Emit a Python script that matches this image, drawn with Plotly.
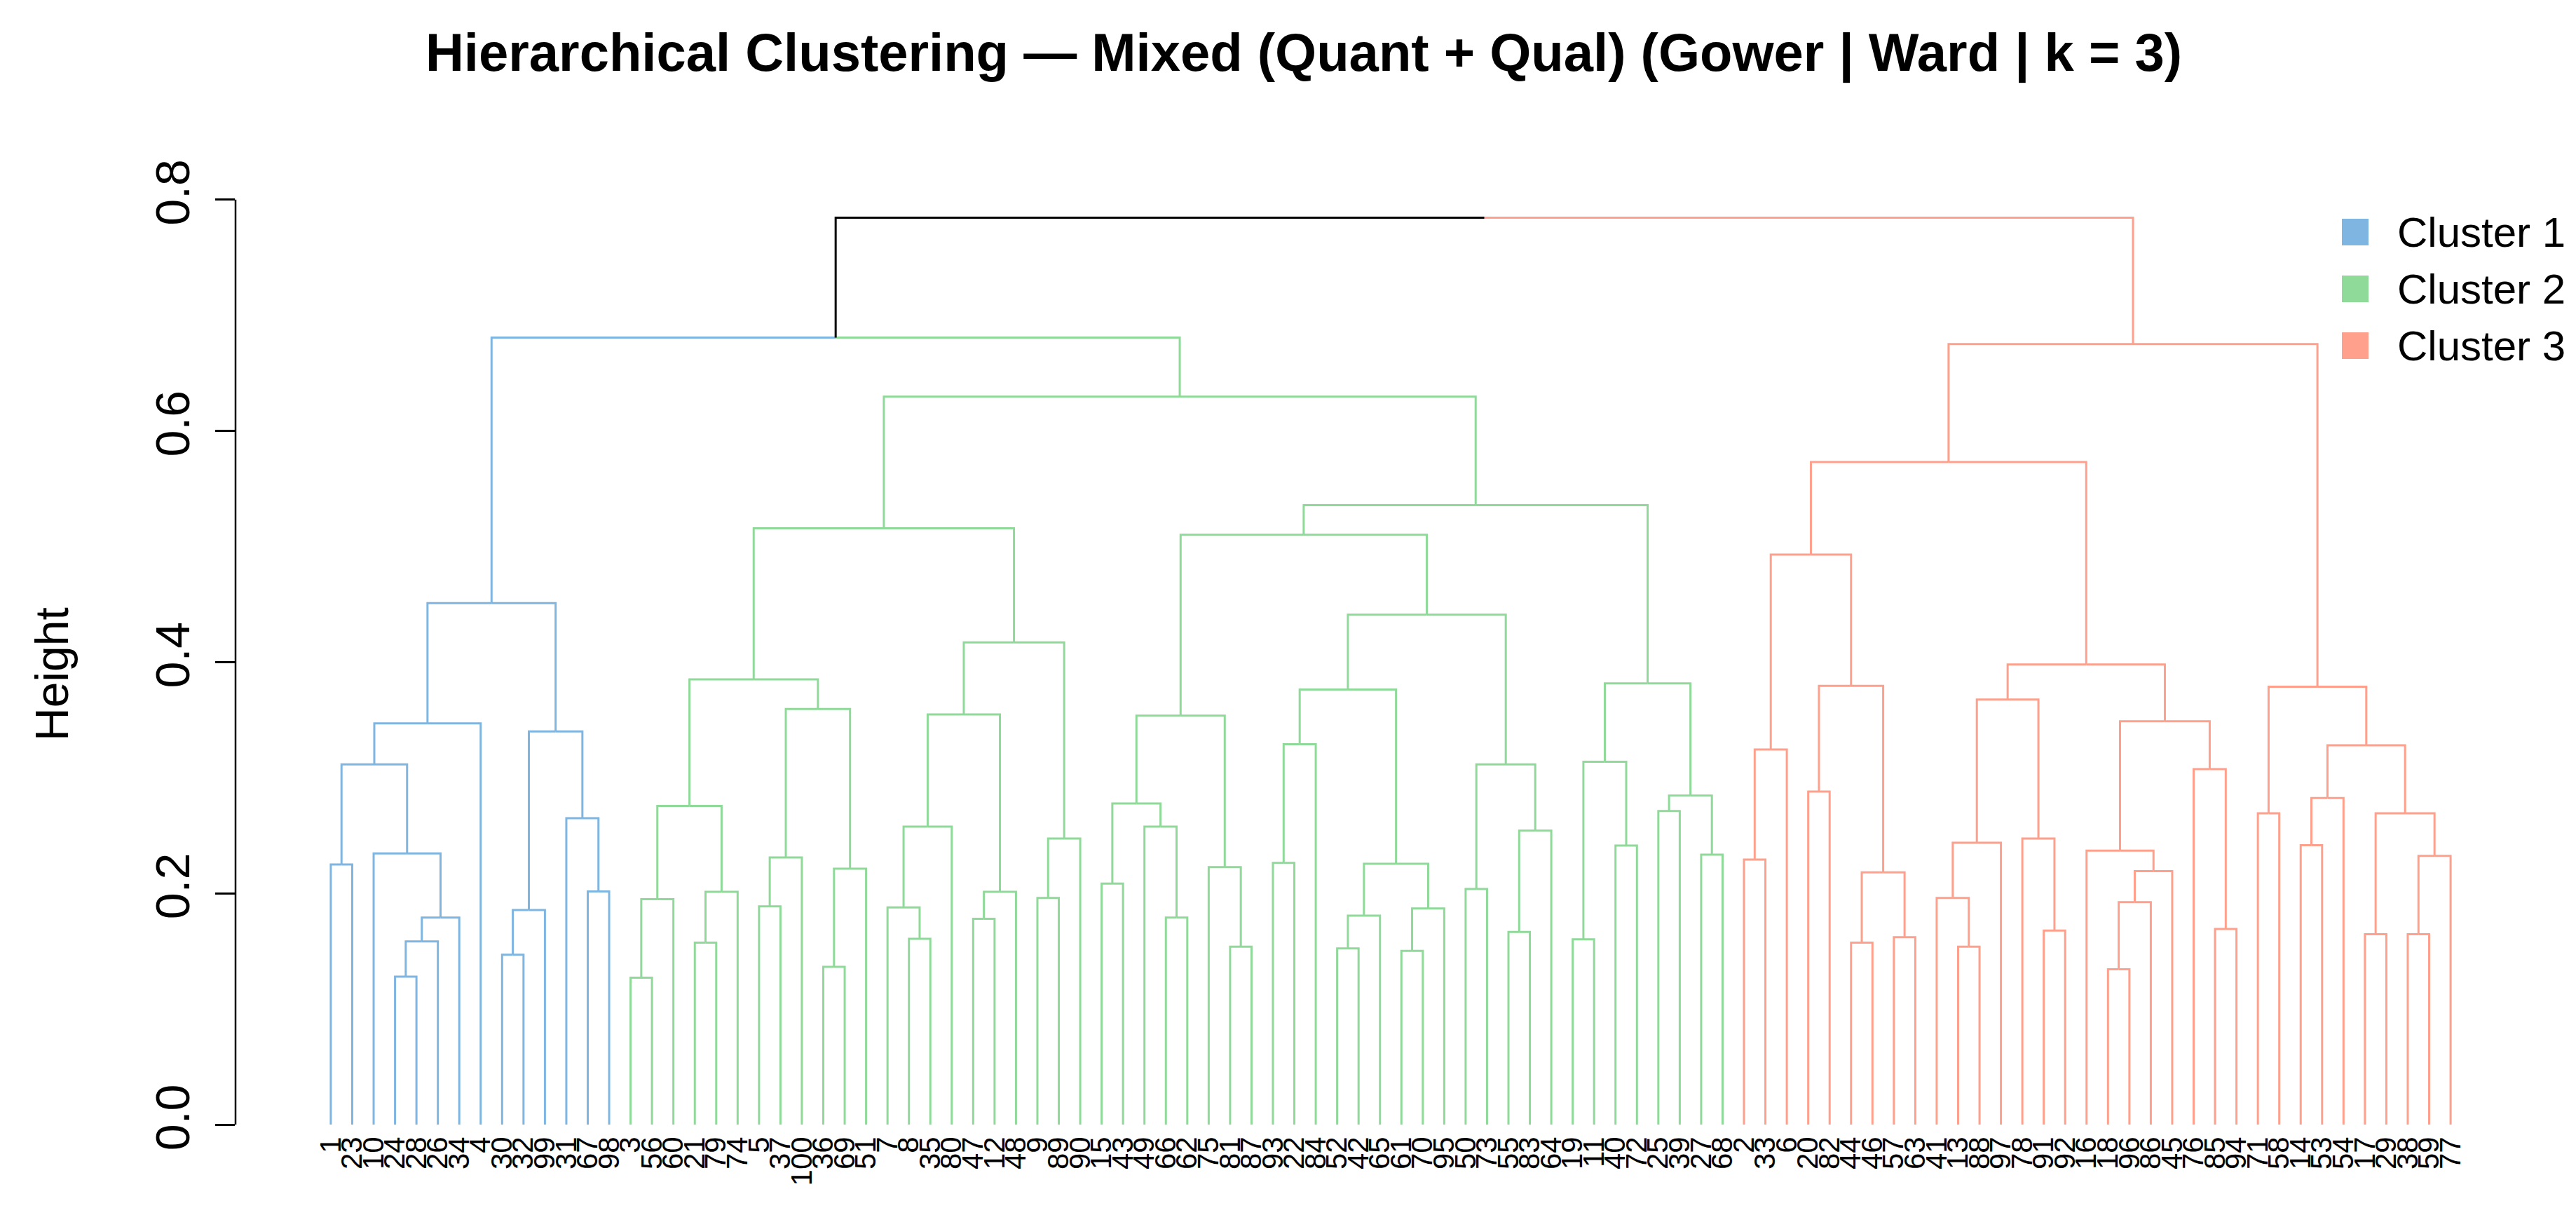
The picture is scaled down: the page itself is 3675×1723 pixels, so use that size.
import plotly.graph_objects as go

# Leaf labels in the order they are drawn, left to right
leaf_labels = [
    1, 23, 10, 24, 28, 26, 34, 4, 30, 32, 99, 31, 67, 98,
    3, 56, 60, 21, 79, 74, 5, 37, 100, 36, 69, 51, 7, 8, 35, 80, 47, 12, 48, 9,
    89, 90, 15, 43, 49, 66, 62, 75, 81, 87, 93, 22, 84, 52, 42, 65, 61, 70, 95,
    50, 73, 55, 83, 64, 19, 11, 40, 72, 25, 39, 27, 68,
    2, 33, 6, 20, 82, 44, 46, 57, 63, 41, 13, 88, 97, 78, 91, 92, 16, 18, 96,
    86, 45, 76, 85, 94, 71, 58, 14, 53, 54, 17, 29, 38, 59, 77,
]

# Merge table (hclust style): negative = leaf position, positive = earlier merge number
merges = [
    # cluster 1
    (-4, -5, 0.128), (1, -6, 0.1585), (2, -7, 0.179), (-3, 3, 0.2345),
    (-1, -2, 0.225), (5, 4, 0.3116), (6, -8, 0.347), (-9, -10, 0.147),
    (8, -11, 0.1856), (-13, -14, 0.2017), (-12, 10, 0.265), (9, 11, 0.34),
    (7, 12, 0.451),
    # cluster 2
    (-15, -16, 0.127), (14, -17, 0.195), (-18, -19, 0.1574), (16, -20, 0.2013),
    (15, 17, 0.2756), (-21, -22, 0.1888), (19, -23, 0.231), (-24, -25, 0.1364),
    (21, -26, 0.2213), (20, 22, 0.3595), (18, 23, 0.385), (-28, -29, 0.1607),
    (-27, 25, 0.1878), (26, -30, 0.2577), (-31, -32, 0.178), (28, -33, 0.2013),
    (27, 29, 0.3548), (-34, -35, 0.196), (31, -36, 0.2474), (30, 32, 0.417),
    (24, 33, 0.5158), (-37, -38, 0.2085), (-40, -41, 0.179), (-39, 36, 0.2577),
    (35, 37, 0.2777), (-43, -44, 0.1539), (-42, 39, 0.2227), (38, 40, 0.3537),
    (-45, -46, 0.2263), (42, -47, 0.329), (-48, -49, 0.1524), (44, -50, 0.1807),
    (-51, -52, 0.1503), (46, -53, 0.187), (45, 47, 0.2256), (43, 48, 0.3762),
    (-54, -55, 0.2038), (-56, -57, 0.1667), (51, -58, 0.2542), (50, 52, 0.3116),
    (49, 53, 0.441), (41, 54, 0.5101), (-59, -60, 0.1603), (-61, -62, 0.2413),
    (56, 57, 0.3138), (-63, -64, 0.2713), (-65, -66, 0.2335), (59, 60, 0.2845),
    (58, 61, 0.3816), (55, 62, 0.5357), (34, 63, 0.6295),
    # cluster 1 + 2
    (13, 64, 0.6806),
    # cluster 3
    (-67, -68, 0.2292), (66, -69, 0.3245), (-70, -71, 0.288), (-72, -73, 0.1574),
    (-74, -75, 0.1621), (69, 70, 0.2181), (68, 71, 0.3795), (67, 72, 0.493),
    (-77, -78, 0.1539), (-76, 74, 0.196), (75, -79, 0.2438), (-81, -82, 0.1678),
    (-80, 77, 0.2474), (76, 78, 0.3677), (-84, -85, 0.1343), (80, -86, 0.1924),
    (81, -87, 0.2192), (-83, 82, 0.237), (-89, -90, 0.1692), (-88, 84, 0.3074),
    (83, 85, 0.3488), (79, 86, 0.398), (73, 87, 0.573), (-91, -92, 0.2692),
    (-93, -94, 0.2417), (90, -95, 0.2824), (-96, -97, 0.1646), (-98, -99, 0.1646),
    (93, -100, 0.2324), (92, 94, 0.2692), (91, 95, 0.328), (89, 96, 0.3787),
    (88, 97, 0.675),
    # root
    (65, 98, 0.7844),
]

k = 3
cluster_names = ["Cluster 1", "Cluster 2", "Cluster 3"]
cluster_colors = ["#7FB5E1", "#8FD999", "#FFA08C"]
y_ticks = [0.0, 0.2, 0.4, 0.6, 0.8]

n = len(leaf_labels)

# node positions: leaves sit at 1..n, a merge sits midway between its children
node_x = {-i: float(i) for i in range(1, n + 1)}
node_h = {-i: 0.0 for i in range(1, n + 1)}
for j, (a, b, h) in enumerate(merges, start=1):
    node_x[j] = (node_x[a] + node_x[b]) / 2
    node_h[j] = h


def descendants(node):
    out = [node]
    if node > 0:
        a, b, _ = merges[node - 1]
        out += descendants(a) + descendants(b)
    return out


# cut the tree into k clusters
top = sorted(range(1, len(merges) + 1), key=lambda j: merges[j - 1][2])[-(k - 1):]
roots = [c for j in top for c in merges[j - 1][:2] if c not in top]
roots.sort(key=lambda r: min(-d for d in descendants(r) if d < 0))
node_color = {}
for ci, r in enumerate(roots):
    for d in descendants(r):
        node_color[d] = cluster_colors[ci]

# elbow segments, grouped by colour
segs = {}
for j, (a, b, h) in enumerate(merges, start=1):
    for c in (a, b):
        col = node_color.get(c, "black")
        xs, ys = segs.setdefault(col, ([], []))
        xs += [node_x[j], node_x[c], node_x[c], None]
        ys += [h, h, node_h[c], None]

fig = go.Figure()
for col, (xs, ys) in segs.items():
    fig.add_trace(go.Scatter(
        x=xs, y=ys, mode="lines",
        line=dict(color=col, width=3),
        hoverinfo="skip", showlegend=False,
    ))

W, H = 3675, 1723
ML, MR, MT, MB = 328, 51, 244, 119
PW, PH = W - ML - MR, H - MT - MB


def px(x):
    return (x - ML) / PW


def py(y):
    return 1 - (y - MT) / PH


font = "Liberation Sans, Arial, sans-serif"

fig.update_layout(
    width=W, height=H,
    margin=dict(l=ML, r=MR, t=MT, b=MB),
    paper_bgcolor="white", plot_bgcolor="white",
    font=dict(family=font, color="black"),
    title=dict(
        text="<b>Hierarchical Clustering — Mixed (Quant + Qual) (Gower | Ward | k = 3)</b>",
        x=1852 / W, xref="container", xanchor="center",
        y=1 - 66 / H, yref="container", yanchor="middle",
        font=dict(size=76, family=font, color="black"),
    ),
    showlegend=False,
)

fig.update_xaxes(
    range=[-3.45, n + 4.45],
    tickmode="array",
    tickvals=list(range(1, n + 1)),
    ticktext=[str(v) for v in leaf_labels],
    tickangle=-90,
    tickfont=dict(size=42, family=font, color="black"),
    ticks="", showline=False, showgrid=False, zeroline=False,
)

fig.update_yaxes(
    range=[-0.0048, 0.8198],
    tickmode="array",
    tickvals=y_ticks,
    ticktext=[f"{v:.1f}" for v in y_ticks],
    tickangle=-90,
    tickfont=dict(size=68, family=font, color="black"),
    ticks="outside", ticklen=28, tickwidth=2.5, tickcolor="black",
    ticklabelstandoff=10,
    showline=False, showgrid=False, zeroline=False,
)

# axis spine only between the first and last tick, as in base R
fig.add_shape(type="line", xref="paper", yref="y", x0=0, x1=0,
              y0=y_ticks[0], y1=y_ticks[-1], line=dict(color="black", width=2.5))

fig.add_annotation(
    text="Height", xref="paper", yref="paper", x=px(66), y=py(954),
    xanchor="center", yanchor="middle",
    textangle=-90, showarrow=False, font=dict(size=66, family=font, color="black"),
)

# legend: filled squares with labels, top right
for i, (name, col) in enumerate(zip(cluster_names, cluster_colors)):
    cy = 323 + i * 81
    fig.add_shape(type="rect", xref="paper", yref="paper",
                  x0=px(3333), x1=px(3371), y0=py(cy + 19), y1=py(cy - 19),
                  fillcolor=col, line=dict(width=0))
    fig.add_annotation(text=name, xref="paper", yref="paper",
                       x=px(3410), y=py(cy), xanchor="left", yanchor="middle",
                       showarrow=False, font=dict(size=60, family=font, color="black"))

fig.write_html("out.html")
